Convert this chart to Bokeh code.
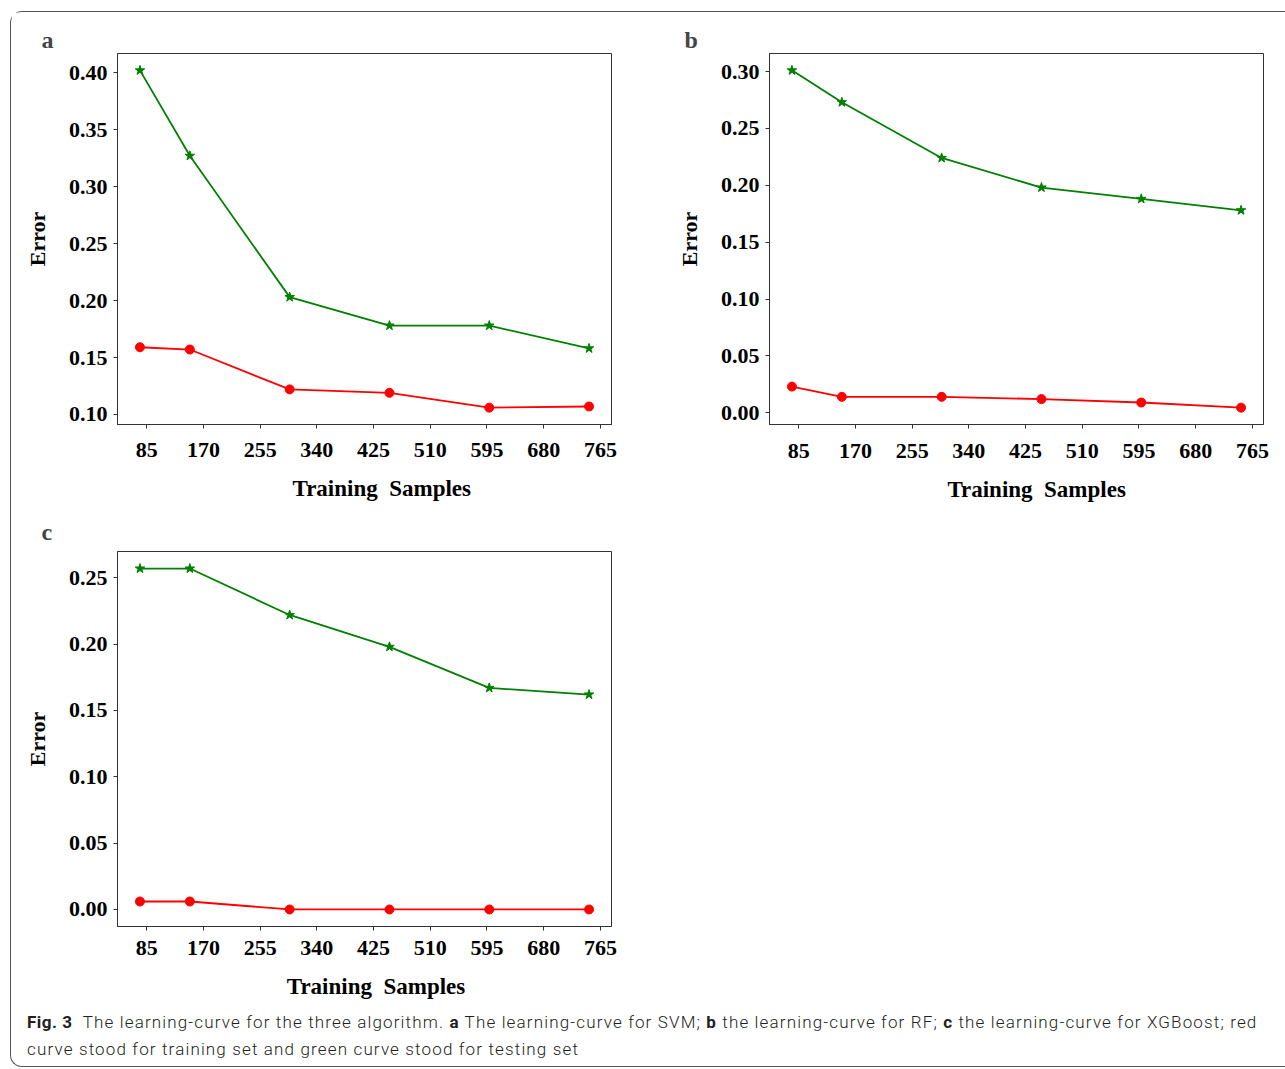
from bokeh.plotting import figure
from bokeh.layouts import column, row
from bokeh.models import FixedTicker, PrintfTickFormatter, Range1d, Div
from bokeh.embed import file_html
from bokeh.resources import INLINE

# ---- data ----
train_sizes = [74.8, 149.6, 299.2, 448.8, 598.4, 748.0]
x_tick_values = [85, 170, 255, 340, 425, 510, 595, 680, 765]

svm_test = [0.402, 0.327, 0.203, 0.178, 0.178, 0.158]
svm_train = [0.159, 0.157, 0.122, 0.119, 0.106, 0.107]

rf_test = [0.301, 0.273, 0.224, 0.198, 0.188, 0.178]
rf_train = [0.023, 0.014, 0.014, 0.012, 0.009, 0.0045]

xgb_test = [0.257, 0.257, 0.222, 0.198, 0.167, 0.162]
xgb_train = [0.006, 0.006, 0.0, 0.0, 0.0, 0.0]

svm_y_ticks = [0.10, 0.15, 0.20, 0.25, 0.30, 0.35, 0.40]
rf_y_ticks = [0.00, 0.05, 0.10, 0.15, 0.20, 0.25, 0.30]
xgb_y_ticks = [0.00, 0.05, 0.10, 0.15, 0.20, 0.25]

panel_labels = ["a", "b", "c"]

SERIF = "Liberation Serif"
AX = "#333333"
NB = "\u00a0"


def padded(vals):
    lo, hi = min(vals), max(vals)
    m = (hi - lo) * 0.05
    return lo - m, hi + m


def make_panel(label, test, train, yticks, width, height, mbl, mbr, mbt, mbb,
               xs_std, xas_std, title_offset, title_standoff, lead):
    x0, x1 = padded(train_sizes)
    y0, y1 = padded(test + train)
    p = figure(width=width, height=height, output_backend="svg",
               toolbar_location=None, x_range=Range1d(x0, x1),
               y_range=Range1d(y0, y1),
               min_border_left=mbl, min_border_right=mbr,
               min_border_top=mbt, min_border_bottom=mbb,
               background_fill_color="white", border_fill_color="white")
    p.title.text = label
    p.title.text_font = SERIF
    p.title.text_font_style = "bold"
    p.title.text_font_size = "24px"
    p.title.align = "left"
    p.title.offset = title_offset
    p.title.standoff = title_standoff
    p.grid.visible = False
    p.outline_line_color = AX
    p.outline_line_width = 1
    p.outline_line_alpha = 1

    for ax in (p.xaxis[0], p.yaxis[0]):
        ax.axis_line_color = AX
        ax.major_tick_line_color = AX
        ax.minor_tick_line_color = None
        ax.major_tick_out = 4
        ax.major_tick_in = 0
        ax.major_label_text_font = SERIF
        ax.major_label_text_font_style = "bold"
        ax.major_label_text_font_size = "22px"
        ax.major_label_text_color = "black"
        ax.axis_label_text_font = SERIF
        ax.axis_label_text_font_style = "bold"
        ax.axis_label_text_font_size = "22px"
        ax.axis_label_text_color = "black"

    p.xaxis.ticker = FixedTicker(ticks=x_tick_values)
    p.xaxis.axis_label = NB * lead + "Training" + NB + NB + "Samples"
    p.xaxis.axis_label_text_font_size = "23px"
    p.xaxis.major_label_standoff = xs_std
    p.xaxis.axis_label_standoff = xas_std

    p.yaxis.ticker = FixedTicker(ticks=yticks)
    p.yaxis.formatter = PrintfTickFormatter(format="%.2f")
    p.yaxis.axis_label = "Error"
    p.yaxis.major_label_standoff = 6
    p.yaxis.axis_label_standoff = 16

    p.line(train_sizes, test, line_color="#008000", line_width=1.8)
    p.scatter(train_sizes, test, marker="star", size=10,
              fill_color="#008000", line_color="#008000")
    p.line(train_sizes, train, line_color="#ff0000", line_width=1.8)
    p.scatter(train_sizes, train, marker="circle", size=9,
              fill_color="#ff0000", line_color="#ff0000")
    return p


pa = make_panel(panel_labels[0], svm_test, svm_train, svm_y_ticks,
                644, 493, 106, 44, 41, 81, 14, 16, -76, 2, 6)
pb = make_panel(panel_labels[1], rf_test, rf_train, rf_y_ticks,
                628, 493, 114, 20, 41, 81, 15, 16, -85, 2, 7)
pc = make_panel(panel_labels[2], xgb_test, xgb_train, xgb_y_ticks,
                644, 498, 106, 44, 46, 77, 10, 16, -76, 14, 4)

caption_html = (
    '<div style="font-family: Roboto, sans-serif; font-size: 17px; '
    'font-weight: 300; letter-spacing: 1.15px; '
    'line-height: 27px; color: #231f20; white-space: nowrap; '
    'padding: 1px 0 0 11px;">'
    '<b style="font-weight:700; letter-spacing:0.5px;">Fig.&nbsp;3</b>&nbsp; '
    'The learning-curve for the three algorithm. '
    '<b style="font-weight:700;">a</b> The learning-curve for SVM; '
    '<b style="font-weight:700;">b</b> the learning-curve for RF; '
    '<b style="font-weight:700;">c</b> the learning-curve for XGBoost; red<br>'
    'curve stood for training set and green curve stood for testing set'
    '</div>'
)
cap = Div(text=caption_html, width=1272, height=58,
          styles={"overflow": "hidden"})

layout = column(
    row(pa, pb),
    row(pc),
    cap,
    margin=(11, 0, 0, 10),
    height=1054,
    styles={
        "border-left": "1.3px solid #555555",
        "border-top": "1.3px solid #555555",
        "border-bottom": "1.3px solid #555555",
        "border-top-left-radius": "12px",
        "border-bottom-left-radius": "12px",
        "box-sizing": "content-box",
    },
)

open("out.html", "w").write(file_html(layout, INLINE))
